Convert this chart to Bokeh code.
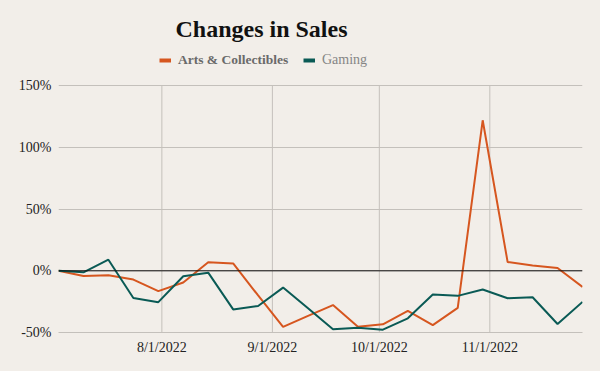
import pandas as pd
from bokeh.plotting import figure
from bokeh.models import (Legend, LegendItem, FixedTicker, Span, NumeralTickFormatter,
                          Range1d, ColumnDataSource, Label)
from bokeh.embed import file_html
from bokeh.resources import INLINE

# ---- data ----
dates = ["2022-07-03", "2022-07-10", "2022-07-17", "2022-07-24", "2022-07-31",
         "2022-08-07", "2022-08-14", "2022-08-21", "2022-08-28", "2022-09-04",
         "2022-09-11", "2022-09-18", "2022-09-25", "2022-10-02", "2022-10-09",
         "2022-10-16", "2022-10-23", "2022-10-30", "2022-11-06", "2022-11-13",
         "2022-11-20", "2022-11-27"]
arts = [0, -4.2, -3.6, -7.1, -16.5, -9.5, 6.9, 6.0, -20, -45.5, -36.5, -27.8,
        -45.3, -43.4, -32.4, -44, -30, 122, 7.1, 4.4, 2.3, -13]
gaming = [0, -1.2, 9, -22, -25.4, -4.4, -1.5, -31.3, -28.5, -13.6, -30.4, -47.4,
          -46.1, -47.7, -38.5, -19.2, -20.3, -15.2, -22.2, -21.4, -43.1, -25.2]
series_names = ["Arts & Collectibles", "Gaming"]
x_tick_dates = ["2022-08-01", "2022-09-01", "2022-10-01", "2022-11-01"]
x_tick_labels = ["8/1/2022", "9/1/2022", "10/1/2022", "11/1/2022"]
y_ticks = [-50, 0, 50, 100, 150]
title_text = "Changes in Sales"

BG = "#f2eee9"
ORANGE = "#d6561f"
TEAL = "#0a5a55"
GRID = "#c4c0bb"
FONT = "Liberation Serif"

Y_MIN, Y_MAX = -0.5, 1.5          # plotted value range
Y_TOP = 2.191                     # frame extends above to hold title + legend

x = pd.to_datetime(dates)
src = ColumnDataSource(dict(x=x, arts=[v / 100 for v in arts], gaming=[v / 100 for v in gaming]))

p = figure(width=600, height=371, x_axis_type="datetime", output_backend="svg",
           toolbar_location=None,
           x_range=Range1d(x[0], x[-1]), y_range=Range1d(Y_MIN, Y_TOP),
           min_border_left=58, min_border_right=18, min_border_bottom=39, min_border_top=0)
p.background_fill_color = BG
p.border_fill_color = BG
p.outline_line_color = None

# vertical month grid lines (only over the value range)
tick_x = pd.to_datetime(x_tick_dates)
p.segment(x0=tick_x, y0=[Y_MIN] * len(tick_x), x1=tick_x, y1=[Y_MAX] * len(tick_x),
          line_color=GRID, line_width=1)

# zero line
p.add_layout(Span(location=0, dimension="width", line_color="#111111", line_width=1))

r1 = p.line("x", "arts", source=src, line_color=ORANGE, line_width=2)
r2 = p.line("x", "gaming", source=src, line_color=TEAL, line_width=2)

# title
p.add_layout(Label(x=203, y=304, x_units="screen", y_units="screen", text=title_text,
                   text_align="center", text_baseline="middle", text_font=FONT,
                   text_font_size="24px", text_font_style="bold", text_color="#111111"))

# legend swatches (thicker than the data lines), one point with no value so nothing plots
d1 = p.line([x[0]], [float("nan")], line_color=ORANGE, line_width=4)
d2 = p.line([x[0]], [float("nan")], line_color=TEAL, line_width=4)

common = dict(orientation="horizontal", glyph_width=12, glyph_height=14, label_standoff=7,
              padding=0, margin=0, border_line_alpha=0, background_fill_alpha=0,
              label_text_font=FONT, label_height=14)
leg1 = Legend(items=[LegendItem(label=series_names[0], renderers=[d1])],
              location=(101, 264), label_text_font_size="13.5px",
              label_text_font_style="bold", label_text_color="#6a6a6a", **common)
leg2 = Legend(items=[LegendItem(label=series_names[1], renderers=[d2])],
              location=(245, 264), label_text_font_size="14px",
              label_text_color="#858585", **common)
p.add_layout(leg1, "center")
p.add_layout(leg2, "center")

# axes
tick_ms = [pd.Timestamp(d).value / 1e6 for d in x_tick_dates]
p.xaxis.ticker = FixedTicker(ticks=tick_ms)
p.xaxis.major_label_overrides = {t: lab for t, lab in zip(tick_ms, x_tick_labels)}
p.yaxis.ticker = FixedTicker(ticks=[v / 100 for v in y_ticks])
p.yaxis.formatter = NumeralTickFormatter(format="0%")
for ax in (p.xaxis[0], p.yaxis[0]):
    ax.major_tick_line_color = None
    ax.minor_tick_line_color = None
    ax.major_tick_out = 0
    ax.major_tick_in = 0
    ax.minor_tick_out = 0
    ax.major_label_text_font = FONT
    ax.major_label_text_font_size = "14px"
    ax.major_label_text_color = "#222222"
p.yaxis.axis_line_color = None
p.yaxis.major_label_standoff = 7
p.xaxis.axis_line_color = GRID
p.xaxis.major_label_standoff = 7

p.xgrid.grid_line_color = None
p.ygrid.grid_line_color = GRID
p.ygrid.grid_line_width = 1

template = '{% block preamble %}<style>html, body { background: ' + BG + '; }</style>{% endblock %}'
open("out.html", "w").write(file_html(p, INLINE, "Changes in Sales", template=template))
